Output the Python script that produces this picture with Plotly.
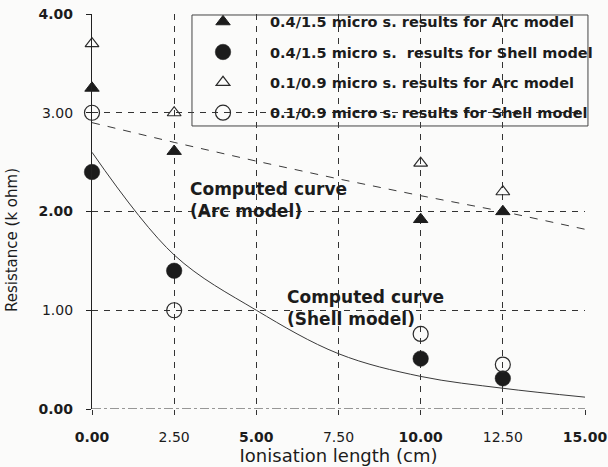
import plotly.graph_objects as go

# Measured resistance values (k ohm) at each ionisation length (cm)
ion_length = [0.0, 2.5, 10.0, 12.5]
arc_04_15 = [3.25, 2.61, 1.92, 2.00]
shell_04_15 = [2.40, 1.40, 0.51, 0.31]
arc_01_09 = [3.70, 3.00, 2.49, 2.20]
shell_01_09 = [3.00, 1.00, 0.76, 0.45]

# Computed curves for both models
curve_x = [0.0, 2.5, 5.0, 7.5, 10.0, 12.5, 15.0]
arc_curve = [2.90, 2.70, 2.51, 2.33, 2.16, 2.00, 1.82]
shell_curve = [2.60, 1.56, 1.00, 0.56, 0.33, 0.21, 0.12]

# Axis ticks
x_ticks = [0.0, 2.5, 5.0, 7.5, 10.0, 12.5, 15.0]
x_ticktext = ["<b>0.00</b>", "2.50", "<b>5.00</b>", "7.50", "<b>10.00</b>", "12.50", "<b>15.00</b>"]
y_ticks = [0.0, 1.0, 2.0, 3.0, 4.0]
y_ticktext = ["<b>0.00</b>", "1.00", "<b>2.00</b>", "3.00", "<b>4.00</b>"]

INK = "#1c1c1c"
FONT = "DejaVu Sans"

fig = go.Figure()

fig.add_trace(go.Scatter(
    x=curve_x, y=arc_curve, mode="lines", showlegend=False,
    line=dict(color="#3a3a3a", width=1, dash="8px,8px"), hoverinfo="skip"))
fig.add_trace(go.Scatter(
    x=curve_x, y=shell_curve, mode="lines", showlegend=False,
    line=dict(color="#3a3a3a", width=1, shape="spline"), hoverinfo="skip"))

fig.add_trace(go.Scatter(
    x=ion_length, y=arc_04_15, mode="markers", cliponaxis=False,
    name="0.4/1.5 micro s. results for Arc model", legendgroup="a",
    marker=dict(symbol="triangle-up", size=12.5, color=INK, line=dict(color=INK, width=1))))
fig.add_trace(go.Scatter(
    x=ion_length, y=shell_04_15, mode="markers", cliponaxis=False,
    name="0.4/1.5 micro s.  results for Shell model", legendgroup="b",
    marker=dict(symbol="circle", size=15.5, color=INK, line=dict(color=INK, width=0.5))))
fig.add_trace(go.Scatter(
    x=ion_length, y=arc_01_09, mode="markers", cliponaxis=False,
    name="0.1/0.9 micro s. results for Arc model", legendgroup="c",
    marker=dict(symbol="triangle-up-open", size=12, color="#2a2a2a", line=dict(width=1.2))))
fig.add_trace(go.Scatter(
    x=ion_length, y=shell_01_09, mode="markers", cliponaxis=False,
    name="0.1/0.9 micro s. results for Shell model", legendgroup="d",
    marker=dict(symbol="circle-open", size=15, color="#2a2a2a", line=dict(width=1.2))))

# Bottom axis drawn as a dash-dot rule
fig.add_shape(type="line", xref="x", yref="y", x0=0, x1=15, y0=0, y1=0,
              line=dict(color="#333", width=1, dash="dashdot"), layer="below")
# Frame around the legend
fig.add_shape(type="rect", xref="paper", yref="paper",
              x0=0.2028, x1=1.006, y0=0.7165, y1=0.9975,
              line=dict(color="#444", width=1), layer="above")

fig.add_annotation(x=2.92, y=2.12, xref="x", yref="y", xanchor="left", yanchor="middle",
                   align="left", showarrow=False,
                   text="<b>Computed curve<br>(Arc model)</b>",
                   font=dict(family=FONT, size=17, color=INK))
fig.add_annotation(x=5.87, y=1.02, xref="x", yref="y", xanchor="left", yanchor="middle",
                   align="left", showarrow=False,
                   text="<b>Computed curve<br>(Shell model)</b>",
                   font=dict(family=FONT, size=17, color=INK))

fig.add_annotation(x=-0.162, y=0.428, xref="paper", yref="paper", showarrow=False,
                   xanchor="center", yanchor="middle",
                   text="Resistance (k ohm)", textangle=-90,
                   font=dict(family=FONT, size=15, color=INK))

fig.update_layout(
    width=608, height=467,
    margin=dict(l=92, r=23, t=14, b=58, autoexpand=False),
    paper_bgcolor="#fbfbfa", plot_bgcolor="#fbfbfa",
    font=dict(family=FONT, color=INK),
    showlegend=True,
    legend=dict(x=0.1704, y=1.021, xanchor="left", yanchor="top",
                bgcolor="rgba(0,0,0,0)", borderwidth=0,
                font=dict(family=FONT, size=14.5, color=INK, weight="bold"),
                tracegroupgap=8.5, itemwidth=84, traceorder="grouped"),
    xaxis=dict(range=[0, 15], tickvals=x_ticks, ticktext=x_ticktext, automargin=False,
               showgrid=True, gridcolor="#333", gridwidth=1, griddash="6px,6px",
               zeroline=False, showline=False, ticks="outside", ticklen=5,
               tickcolor="#333", ticklabelstandoff=10,
               tickfont=dict(family=FONT, size=14, color=INK),
               title=dict(text="Ionisation length (cm)", standoff=4,
                          font=dict(family=FONT, size=18, color=INK))),
    yaxis=dict(range=[0, 4], tickvals=y_ticks, ticktext=y_ticktext, automargin=False,
               showgrid=True, gridcolor="#333", gridwidth=1, griddash="6px,6px",
               zeroline=False, showline=True, linecolor="#222", linewidth=1.3,
               ticks="outside", ticklen=5, tickcolor="#222", ticklabelstandoff=10,
               tickfont=dict(family=FONT, size=14, color=INK)),
)

fig.write_html("out.html")
